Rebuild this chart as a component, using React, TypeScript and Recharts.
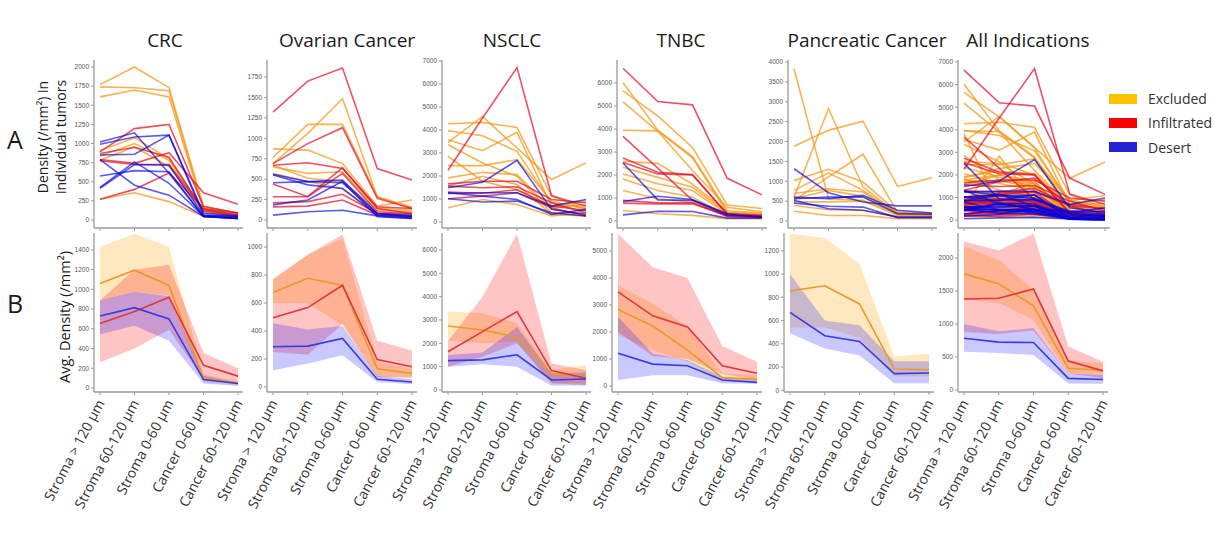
import React from 'react';
import { LineChart, ComposedChart, Line, Area, XAxis, YAxis } from 'recharts';

// ---------- categories / labels ----------
const categories = ['Stroma > 120 µm', 'Stroma 60-120 µm', 'Stroma 0-60 µm', 'Cancer 0-60 µm', 'Cancer 60-120 µm'];
const groups = ['Excluded', 'Infiltrated', 'Desert'];
const panelTitles = ['CRC', 'Ovarian Cancer', 'NSCLC', 'TNBC', 'Pancreatic Cancer', 'All Indications'];

// ---------- Row A: individual tumors ----------
const crcExcluded = [
  [1770, 2000, 1730, 180, 90],
  [1740, 1730, 1690, 150, 65],
  [1610, 1700, 1610, 130, 50],
  [910, 1075, 800, 130, 50],
  [835, 1000, 780, 110, 50],
  [780, 955, 700, 110, 45],
  [270, 355, 240, 50, 40],
];
const crcInfiltrated = [
  [890, 1195, 1250, 175, 90],
  [270, 400, 615, 150, 90],
  [790, 740, 880, 355, 205],
  [775, 725, 725, 140, 65],
  [870, 950, 820, 120, 60],
];
const crcDesert = [
  [1020, 1140, 610, 45, 20],
  [990, 1085, 1110, 90, 50],
  [850, 860, 1110, 65, 35],
  [575, 645, 630, 45, 20],
  [425, 760, 480, 50, 20],
  [790, 455, 325, 45, 20],
  [415, 725, 715, 65, 45],
];

const ovarianExcluded = [
  [870, 855, 690, 170, 245],
  [765, 1170, 1170, 285, 160],
  [690, 1060, 1485, 285, 140],
  [650, 570, 590, 140, 120],
  [670, 510, 470, 120, 100],
  [570, 470, 385, 80, 80],
];
const ovarianInfiltrated = [
  [1320, 1700, 1860, 630, 490],
  [690, 935, 1130, 265, 140],
  [670, 700, 630, 160, 140],
  [440, 285, 640, 140, 80],
  [285, 285, 570, 100, 80],
  [210, 225, 315, 80, 50],
  [160, 170, 245, 60, 40],
];
const ovarianDesert = [
  [560, 470, 455, 80, 60],
  [455, 470, 490, 80, 40],
  [185, 245, 475, 40, 20],
  [60, 100, 120, 50, 20],
  [550, 430, 385, 60, 40],
];

const nsclcExcluded = [
  [4270, 4330, 4110, 1125, 550],
  [3970, 3750, 3070, 840, 620],
  [3580, 3100, 3900, 690, 910],
  [3460, 4590, 3220, 1850, 2570],
  [3360, 2570, 1990, 400, 400],
  [2860, 1775, 1410, 620, 760],
  [2450, 2450, 2710, 910, 550],
  [1920, 2160, 2060, 550, 330],
  [620, 980, 765, 260, 400],
  [1560, 1990, 1630, 330, 260],
];
const nsclcInfiltrated = [
  [2250, 4520, 6710, 1150, 690],
  [1660, 1775, 1775, 980, 840],
  [1010, 1125, 1270, 620, 260],
  [1560, 1490, 1530, 840, 400],
  [1300, 1250, 1400, 700, 500],
];
const nsclcDesert = [
  [1490, 1730, 2680, 550, 330],
  [1240, 1270, 1270, 690, 980],
  [1010, 870, 910, 400, 260],
  [1270, 1125, 980, 330, 550],
];

const tnbcExcluded = [
  [6020, 3950, 2800, 450, 350],
  [5660, 4570, 3200, 700, 550],
  [5180, 3900, 2200, 600, 400],
  [3950, 3920, 2750, 350, 300],
  [2600, 2510, 1600, 400, 300],
  [2340, 1900, 1470, 350, 250],
  [2050, 1620, 1330, 300, 250],
  [1830, 1330, 1040, 250, 200],
  [1330, 970, 820, 200, 150],
  [460, 320, 250, 100, 100],
];
const tnbcInfiltrated = [
  [6640, 5195, 5050, 1860, 1140],
  [3680, 2300, 900, 300, 220],
  [2740, 2120, 2020, 320, 250],
  [2550, 2050, 2000, 300, 200],
  [900, 800, 800, 200, 150],
  [780, 750, 750, 245, 180],
];
const tnbcDesert = [
  [2525, 920, 900, 250, 200],
  [850, 1080, 940, 320, 170],
  [270, 430, 420, 130, 130],
];

const pancreaticExcluded = [
  [3830, 560, 520, 185, 140],
  [1880, 2280, 2510, 870, 1090],
  [600, 2830, 855, 185, 170],
  [520, 1110, 1680, 225, 185],
  [1020, 1300, 980, 225, 185],
  [770, 1210, 770, 185, 140],
  [690, 810, 730, 140, 100],
  [390, 285, 270, 100, 75],
  [245, 140, 140, 60, 60],
  [560, 770, 620, 200, 170],
  [480, 480, 500, 140, 140],
];
const pancreaticInfiltrated: number[][] = [];
const pancreaticDesert = [
  [1315, 710, 480, 380, 380],
  [600, 560, 645, 270, 200],
  [520, 310, 270, 100, 100],
  [450, 370, 350, 85, 85],
  [560, 600, 600, 185, 170],
];

// ---------- Row B: averages with bands (mean, low, high) ----------
const crcMean = { Excluded: [1060, 1195, 1040, 95, 50], Infiltrated: [655, 775, 920, 230, 120], Desert: [730, 815, 700, 85, 45] };
const crcLow = { Excluded: [890, 975, 940, 60, 30], Infiltrated: [260, 400, 590, 90, 40], Desert: [545, 630, 480, 45, 20] };
const crcHigh = { Excluded: [1430, 1565, 1430, 140, 65], Infiltrated: [890, 1200, 1250, 355, 200], Desert: [890, 975, 930, 125, 55] };

const ovarianMean = { Excluded: [675, 777, 727, 130, 96], Infiltrated: [495, 567, 727, 196, 144], Desert: [287, 292, 347, 55, 36] };
const ovarianLow = { Excluded: [598, 600, 440, 80, 60], Infiltrated: [250, 230, 450, 70, 70], Desert: [120, 167, 227, 35, 20] };
const ovarianHigh = { Excluded: [770, 945, 1060, 180, 130], Infiltrated: [770, 945, 1090, 330, 260], Desert: [455, 410, 435, 80, 55] };

const nsclcMean = { Excluded: [2740, 2570, 2260, 710, 570], Infiltrated: [1640, 2500, 3360, 830, 500], Desert: [1260, 1290, 1510, 430, 470] };
const nsclcLow = { Excluded: [2110, 2000, 2070, 290, 290], Infiltrated: [1000, 1430, 2000, 290, 200], Desert: [1000, 1100, 1000, 190, 190] };
const nsclcHigh = { Excluded: [3360, 3290, 2860, 860, 1070], Infiltrated: [2100, 4000, 6700, 1140, 860], Desert: [1500, 1610, 2700, 710, 750] };

const tnbcMean = { Excluded: [2830, 2220, 1330, 310, 250], Infiltrated: [3485, 2600, 2190, 750, 470], Desert: [1210, 810, 750, 220, 135] };
const tnbcLow = { Excluded: [1880, 1330, 900, 160, 160], Infiltrated: [2000, 1100, 1000, 450, 200], Desert: [220, 400, 400, 100, 80] };
const tnbcHigh = { Excluded: [3730, 3050, 2200, 470, 400], Infiltrated: [5640, 4400, 4000, 1480, 900], Desert: [2560, 1200, 960, 345, 220] };

const pancreaticMean = { Excluded: [854, 900, 743, 183, 177], Desert: [671, 469, 420, 143, 149] };
const pancreaticLow = { Excluded: [540, 540, 450, 120, 120], Desert: [490, 360, 300, 60, 60] };
const pancreaticHigh = { Excluded: [1350, 1310, 1090, 290, 315], Desert: [1000, 600, 560, 250, 250] };

const allMean = { Excluded: [1760, 1610, 1276, 330, 300], Infiltrated: [1380, 1390, 1530, 440, 290], Desert: [785, 725, 720, 177, 160] };
const allLow = { Excluded: [1370, 1320, 1060, 250, 250], Infiltrated: [880, 850, 900, 250, 180], Desert: [580, 560, 530, 100, 95] };
const allHigh = { Excluded: [2180, 1970, 1520, 455, 400], Infiltrated: [2250, 2115, 2370, 660, 430], Desert: [1000, 890, 940, 250, 230] };

// ---------- tick labels ----------
const crcTicksA = [0, 250, 500, 750, 1000, 1250, 1500, 1750, 2000];
const ovarianTicksA = [0, 250, 500, 750, 1000, 1250, 1500, 1750];
const nsclcTicksA = [0, 1000, 2000, 3000, 4000, 5000, 6000, 7000];
const tnbcTicksA = [0, 1000, 2000, 3000, 4000, 5000, 6000];
const pancreaticTicksA = [0, 500, 1000, 1500, 2000, 2500, 3000, 3500, 4000];
const allTicksA = [0, 1000, 2000, 3000, 4000, 5000, 6000, 7000];
const crcTicksB = [0, 200, 400, 600, 800, 1000, 1200, 1400];
const ovarianTicksB = [0, 200, 400, 600, 800, 1000];
const nsclcTicksB = [0, 1000, 2000, 3000, 4000, 5000, 6000];
const tnbcTicksB = [0, 1000, 2000, 3000, 4000, 5000];
const pancreaticTicksB = [0, 200, 400, 600, 800, 1000, 1200];
const allTicksB = [0, 500, 1000, 1500, 2000];

// ---------- styles ----------
const lineColorA: Record<string, string> = { Excluded: '#F59A1B', Infiltrated: '#E0102A', Desert: '#0000E0' };
const lineOpacityA: Record<string, number> = { Excluded: 0.75, Infiltrated: 0.72, Desert: 0.65 };
const meanColor: Record<string, string> = { Excluded: '#E8992A', Infiltrated: '#E0383A', Desert: '#3A3AE0' };
const bandColor: Record<string, string> = { Excluded: '#FFA500', Infiltrated: '#FF0000', Desert: '#0000FF' };
const bandOpacity: Record<string, number> = { Excluded: 0.25, Infiltrated: 0.23, Desert: 0.21 };
const legendColor: Record<string, string> = { Excluded: '#FFC000', Infiltrated: '#FF0000', Desert: '#2323D3' };

const FONT = '"Open Sans", "DejaVu Sans", sans-serif';
const AXIS = '#9a9a9a';
const YW = 32;
const A_TOP = 60, A_H = 168;
const B_TOP = 233, B_H = 159;

type Sets = { group: string; rows: number[][] }[];

function buildRowA(sets: Sets) {
  const data: Record<string, any>[] = categories.map((c) => ({ cat: c }));
  const series: { key: string; group: string }[] = [];
  let n = 0;
  sets.forEach((s) =>
    s.rows.forEach((r) => {
      const key = 's' + n++;
      series.push({ key, group: s.group });
      r.forEach((v, i) => { data[i][key] = v; });
    })
  );
  return { data, series };
}

function buildRowB(mean: Record<string, number[]>, low: Record<string, number[]>, high: Record<string, number[]>) {
  const keys = groups.filter((g) => mean[g]);
  const data = categories.map((c, i) => {
    const row: Record<string, any> = { cat: c };
    keys.forEach((g) => {
      row[g + 'Mean'] = mean[g][i];
      row[g + 'Band'] = [low[g][i], high[g][i]];
    });
    return row;
  });
  return { data, keys };
}

const EmptyTick = () => <g />;

function RotTick(props: any) {
  const { x, y, payload } = props;
  return (
    <text
      transform={`translate(${x + 5},${y + 6}) rotate(-62)`}
      textAnchor="end"
      fontFamily={FONT}
      fontSize={14}
      fill="#333"
    >
      {payload.value}
    </text>
  );
}

const yTick = { fontSize: 6.5, fill: '#555', fontFamily: '"Liberation Sans", Arial, sans-serif' };

function PanelA({ x0, x1, domain, ticks, sets }: { x0: number; x1: number; domain: number[]; ticks: number[]; sets: Sets }) {
  const axisX = x0 - 6;
  const axisEnd = x1 + 5;
  const { data, series } = buildRowA(sets);
  return (
    <div style={{ position: 'absolute', left: axisX - YW, top: A_TOP }}>
      <LineChart width={YW + axisEnd - axisX} height={A_H + 6} data={data} margin={{ top: 0, right: 0, bottom: 0, left: 0 }}>
        <XAxis dataKey="cat" type="category" scale="point" padding={{ left: x0 - axisX, right: 5 }} interval={0}
          tick={EmptyTick} tickSize={3} height={6} stroke={AXIS} axisLine={{ stroke: AXIS, strokeWidth: 1.3 }} />
        <YAxis type="number" domain={domain} ticks={ticks} allowDataOverflow interval={0} width={YW}
          tickSize={3} tickMargin={2} tick={yTick} stroke={AXIS} axisLine={{ stroke: AXIS, strokeWidth: 1.3 }} />
        {series.map((s) => (
          <Line key={s.key} dataKey={s.key} type="linear" stroke={lineColorA[s.group]} strokeOpacity={lineOpacityA[s.group]}
            strokeWidth={1.6} dot={false} activeDot={false} isAnimationActive={false} />
        ))}
      </LineChart>
    </div>
  );
}

function PanelB({ x0, x1, domain, ticks, mean, low, high }: any) {
  const axisX = x0 - 6;
  const axisEnd = x1 + 5;
  const { data, keys } = buildRowB(mean, low, high);
  return (
    <div style={{ position: 'absolute', left: axisX - YW, top: B_TOP }}>
      <ComposedChart width={YW + axisEnd - axisX} height={B_H + 130} data={data} margin={{ top: 0, right: 0, bottom: 0, left: 0 }}>
        <XAxis dataKey="cat" type="category" scale="point" padding={{ left: x0 - axisX, right: 5 }} interval={0}
          tick={(p: any) => <RotTick {...p} />} tickSize={3} tickMargin={2} height={130} stroke={AXIS}
          axisLine={{ stroke: AXIS, strokeWidth: 1.3 }} />
        <YAxis type="number" domain={domain} ticks={ticks} allowDataOverflow interval={0} width={YW}
          tickSize={3} tickMargin={2} tick={yTick} stroke={AXIS} axisLine={{ stroke: AXIS, strokeWidth: 1.3 }} />
        {keys.map((g) => (
          <Area key={g + 'b'} dataKey={g + 'Band'} type="linear" fill={bandColor[g]} fillOpacity={bandOpacity[g]}
            stroke="none" activeDot={false} dot={false} isAnimationActive={false} />
        ))}
        {keys.map((g) => (
          <Line key={g + 'm'} dataKey={g + 'Mean'} type="linear" stroke={meanColor[g]} strokeWidth={1.6}
            dot={false} activeDot={false} isAnimationActive={false} />
        ))}
      </ComposedChart>
    </div>
  );
}

const crcSets: Sets = [
  { group: 'Excluded', rows: crcExcluded },
  { group: 'Infiltrated', rows: crcInfiltrated },
  { group: 'Desert', rows: crcDesert },
];
const ovarianSets: Sets = [
  { group: 'Excluded', rows: ovarianExcluded },
  { group: 'Infiltrated', rows: ovarianInfiltrated },
  { group: 'Desert', rows: ovarianDesert },
];
const nsclcSets: Sets = [
  { group: 'Excluded', rows: nsclcExcluded },
  { group: 'Infiltrated', rows: nsclcInfiltrated },
  { group: 'Desert', rows: nsclcDesert },
];
const tnbcSets: Sets = [
  { group: 'Excluded', rows: tnbcExcluded },
  { group: 'Infiltrated', rows: tnbcInfiltrated },
  { group: 'Desert', rows: tnbcDesert },
];
const pancreaticSets: Sets = [
  { group: 'Excluded', rows: pancreaticExcluded },
  { group: 'Infiltrated', rows: pancreaticInfiltrated },
  { group: 'Desert', rows: pancreaticDesert },
];
const allSets: Sets = [
  { group: 'Excluded', rows: [...crcExcluded, ...ovarianExcluded, ...nsclcExcluded, ...tnbcExcluded, ...pancreaticExcluded] },
  { group: 'Infiltrated', rows: [...crcInfiltrated, ...ovarianInfiltrated, ...nsclcInfiltrated, ...tnbcInfiltrated] },
  { group: 'Desert', rows: [...crcDesert, ...ovarianDesert, ...nsclcDesert, ...tnbcDesert, ...pancreaticDesert] },
];

const titleX = [165, 347, 512, 681, 867, 1028];

export default function App() {
  return (
    <div style={{ position: 'absolute', left: 0, top: 0, width: 1225, height: 546, background: '#fff', overflow: 'hidden' }}>
      <style>{`.recharts-surface{overflow:visible}`}</style>

      <PanelA x0={100} x1={238} domain={[-105, 2092]} ticks={crcTicksA} sets={crcSets} />
      <PanelA x0={273} x1={412} domain={[-98, 1958]} ticks={ovarianTicksA} sets={ovarianSets} />
      <PanelA x0={448} x1={586} domain={[-260, 7043]} ticks={nsclcTicksA} sets={nsclcSets} />
      <PanelA x0={623} x1={762} domain={[-300, 7000]} ticks={tnbcTicksA} sets={tnbcSets} />
      <PanelA x0={794} x1={932} domain={[-176, 4050]} ticks={pancreaticTicksA} sets={pancreaticSets} />
      <PanelA x0={964} x1={1105} domain={[-350, 7090]} ticks={allTicksA} sets={allSets} />

      <PanelB x0={100} x1={238} domain={[-41, 1572]} ticks={crcTicksB} mean={crcMean} low={crcLow} high={crcHigh} />
      <PanelB x0={273} x1={412} domain={[-36, 1100]} ticks={ovarianTicksB} mean={ovarianMean} low={ovarianLow} high={ovarianHigh} />
      <PanelB x0={448} x1={586} domain={[-86, 6729]} ticks={nsclcTicksB} mean={nsclcMean} low={nsclcLow} high={nsclcHigh} />
      <PanelB x0={618} x1={757} domain={[-222, 5667]} ticks={tnbcTicksB} mean={tnbcMean} low={tnbcLow} high={tnbcHigh} />
      <PanelB x0={790} x1={929} domain={[-15, 1354]} ticks={pancreaticTicksB} mean={pancreaticMean} low={pancreaticLow} high={pancreaticHigh} />
      <PanelB x0={964} x1={1103} domain={[-30, 2379]} ticks={allTicksB} mean={allMean} low={allLow} high={allHigh} />

      <svg width={1225} height={546} style={{ position: 'absolute', left: 0, top: 0, pointerEvents: 'none' }}>
        {panelTitles.map((t, i) => (
          <text key={t} x={titleX[i]} y={47} textAnchor="middle" fontFamily={FONT} fontSize={19} fill="#1a1a1a">{t}</text>
        ))}
        <text x={15} y={139} textAnchor="middle" dominantBaseline="central" fontFamily={FONT} fontSize={25} fill="#1a1a1a">A</text>
        <text x={15} y={303} textAnchor="middle" dominantBaseline="central" fontFamily={FONT} fontSize={25} fill="#1a1a1a">B</text>
        <text transform="translate(42,137) rotate(-90)" textAnchor="middle" dominantBaseline="central" fontFamily={FONT} fontSize={14} fill="#1a1a1a">Density (/mm²) in</text>
        <text transform="translate(60,137) rotate(-90)" textAnchor="middle" dominantBaseline="central" fontFamily={FONT} fontSize={14} fill="#1a1a1a">individual tumors</text>
        <text transform="translate(64,317) rotate(-90)" textAnchor="middle" dominantBaseline="central" fontFamily={FONT} fontSize={14.5} fill="#1a1a1a">Avg. Density (/mm²)</text>
        {groups.map((g, i) => (
          <g key={g}>
            <rect x={1109} y={94 + i * 24} width={28} height={10} fill={legendColor[g]} />
            <text x={1148} y={98 + i * 24.5} dominantBaseline="central" fontFamily={FONT} fontSize={14} fill="#333">{g}</text>
          </g>
        ))}
      </svg>
    </div>
  );
}
